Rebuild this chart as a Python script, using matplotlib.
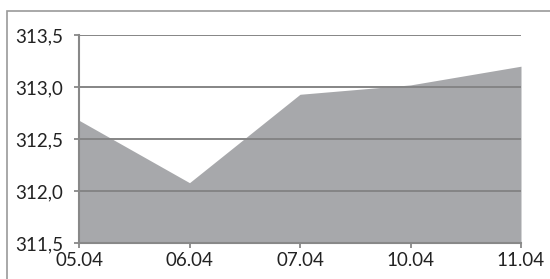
import matplotlib.pyplot as plt
from matplotlib.patches import Rectangle

# Data
dates = ['05.04', '06.04', '07.04', '10.04', '11.04']
values = [312.68, 312.08, 312.93, 313.02, 313.20]
y_ticks = [311.5, 312.0, 312.5, 313.0, 313.5]

plt.rcParams['font.family'] = ['Lato', 'DejaVu Sans']

fig = plt.figure(figsize=(5.5, 2.79), dpi=100)
ax = fig.add_axes([79 / 550, 1 - 243 / 279, 442 / 550, 208 / 279])

# Outer frame (only left and top visible in the crop)
fig.patches.append(Rectangle((7 / 550, -0.1), 1.2, 1 - 11 / 279 + 0.1,
                             transform=fig.transFigure, fill=False,
                             edgecolor='#9a9a9a', linewidth=1.2))

x = range(len(dates))
ax.fill_between(x, 311.5, values, color='#a7a8ab', linewidth=0, zorder=1)

for t in y_ticks[1:]:
    ax.axhline(t, color='#858585', linewidth=1.4, zorder=2)

ax.set_xlim(0, len(dates) - 1)
ax.set_ylim(311.5, 313.5)
ax.set_xticks(list(x))
ax.set_xticklabels(dates)
ax.set_yticks(y_ticks)
ax.set_yticklabels([f'{t:.1f}'.replace('.', ',') for t in y_ticks])

for side in ['top', 'right']:
    ax.spines[side].set_visible(False)
for side in ['left', 'bottom']:
    ax.spines[side].set_color('#888888')
    ax.spines[side].set_linewidth(1.5)

ax.tick_params(axis='both', colors='#888888', labelcolor='#222222',
               labelsize=13.5, length=3.6, width=1.3)
ax.tick_params(axis='x', pad=3)
ax.tick_params(axis='y', pad=8)

fig.savefig('out.png', dpi=100)
